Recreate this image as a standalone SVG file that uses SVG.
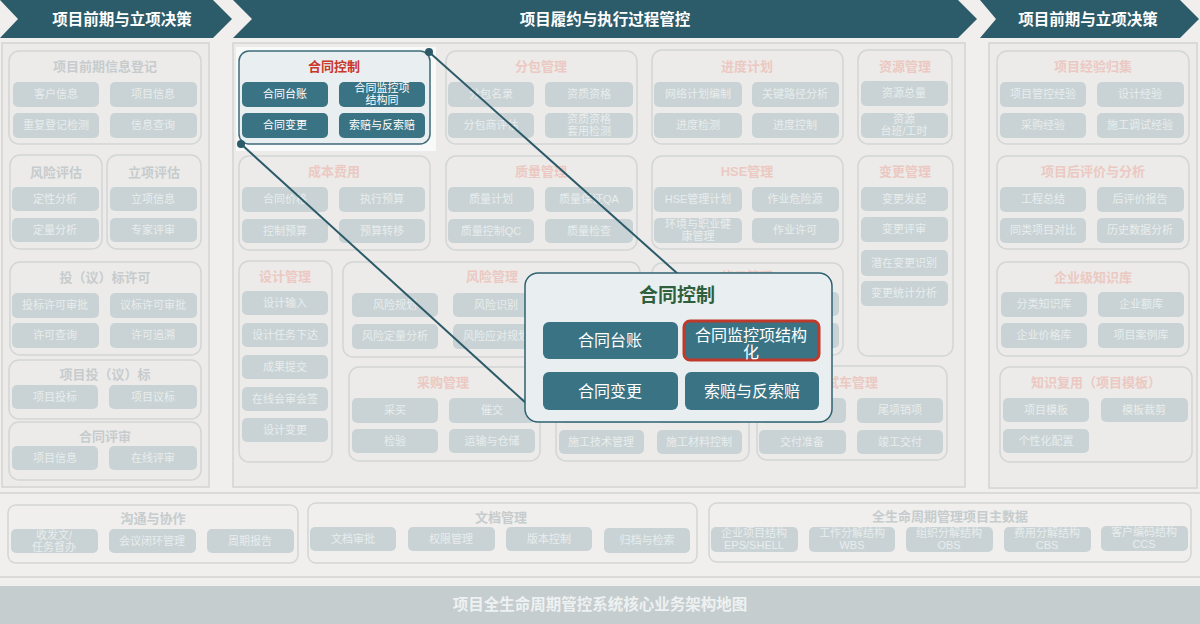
<svg xmlns="http://www.w3.org/2000/svg" width="1200" height="624" viewBox="0 0 1200 624">
<style>
text{font-family:"Liberation Sans","Noto Sans CJK SC",sans-serif;text-anchor:middle}
.hdr{fill:#2c5b6a}
.hdrt{fill:#ffffff;font-size:15.5px;font-weight:bold}
.panel{fill:#edebe9;stroke:#d4d4d2;stroke-width:1.5}
.grp{fill:none;stroke:#d2d6d6;stroke-width:1.5}
.gt{fill:#c6cccd;font-size:13px;font-weight:bold}
.gtp{fill:#ebc9c2;font-size:13px;font-weight:bold}
.it{fill:#c9d3d5}
.itt{fill:#e8eded;font-size:11px}
.act{fill:#3a7384}
.actt{fill:#ffffff;font-size:11px}
.pit{fill:#3a7384}
.pitt{fill:#ffffff;font-size:16px}
.conn{stroke:#2b5a68;stroke-width:2;fill:none}
.dot{fill:#2b5a68}
</style>
<rect x="0" y="0" width="1200" height="624" fill="#f0efed"/>

<g id="header">
<polygon class="hdr" points="0,0 213,0 232,19 213,38 0,38 18,19"/>
<polygon class="hdr" points="233,0 958,0 977,19 958,38 233,38 252,19"/>
<polygon class="hdr" points="980,0 1180,0 1199,19 1180,38 980,38 996,19"/>
<text class="hdrt" x="122" y="25">项目前期与立项决策</text>
<text class="hdrt" x="605" y="25">项目履约与执行过程管控</text>
<text class="hdrt" x="1088" y="25">项目前期与立项决策</text>
</g>

<g id="panels">
<rect class="panel" x="2" y="43" width="207" height="444"/>
<rect class="panel" x="233" y="43" width="732" height="444"/>
<rect class="panel" x="989" y="43" width="208" height="445"/>
</g>

<!-- Left panel -->
<g id="g-qianqi">
<rect class="grp" x="9" y="51" width="192" height="93" rx="10"/>
<text class="gt" x="105" y="71">项目前期信息登记</text>
<rect class="it" x="13" y="82" width="86" height="25" rx="5"/><text class="itt" x="56" y="98">客户信息</text>
<rect class="it" x="110" y="82" width="87" height="25" rx="5"/><text class="itt" x="153" y="98">项目信息</text>
<rect class="it" x="13" y="113" width="86" height="25" rx="5"/><text class="itt" x="56" y="129">重复登记检测</text>
<rect class="it" x="110" y="113" width="87" height="25" rx="5"/><text class="itt" x="153" y="129">信息查询</text>
</g>
<g id="g-fxpg">
<rect class="grp" x="10" y="155" width="92" height="94" rx="10"/>
<text class="gt" x="56" y="177">风险评估</text>
<rect class="it" x="12" y="187" width="87" height="24" rx="5"/><text class="itt" x="55" y="203">定性分析</text>
<rect class="it" x="12" y="218" width="87" height="24" rx="5"/><text class="itt" x="55" y="234">定量分析</text>
</g>
<g id="g-lxpg">
<rect class="grp" x="107" y="155" width="94" height="94" rx="10"/>
<text class="gt" x="154" y="177">立项评估</text>
<rect class="it" x="110" y="187" width="87" height="24" rx="5"/><text class="itt" x="153" y="203">立项信息</text>
<rect class="it" x="110" y="218" width="87" height="24" rx="5"/><text class="itt" x="153" y="234">专家评审</text>
</g>
<g id="g-tbxk">
<rect class="grp" x="10" y="262" width="191" height="93" rx="10"/>
<text class="gt" x="105" y="282">投（议）标许可</text>
<rect class="it" x="12" y="293" width="87" height="25" rx="5"/><text class="itt" x="55" y="309">投标许可审批</text>
<rect class="it" x="110" y="293" width="87" height="25" rx="5"/><text class="itt" x="153" y="309">议标许可审批</text>
<rect class="it" x="12" y="323" width="87" height="25" rx="5"/><text class="itt" x="55" y="339">许可查询</text>
<rect class="it" x="110" y="323" width="87" height="25" rx="5"/><text class="itt" x="153" y="339">许可追溯</text>
</g>
<g id="g-xmtb">
<rect class="grp" x="9" y="360" width="192" height="59" rx="10"/>
<text class="gt" x="105" y="379">项目投（议）标</text>
<rect class="it" x="12" y="385" width="86" height="24" rx="5"/><text class="itt" x="55" y="401">项目投标</text>
<rect class="it" x="109" y="385" width="88" height="24" rx="5"/><text class="itt" x="153" y="401">项目议标</text>
</g>
<g id="g-htps">
<rect class="grp" x="9" y="422" width="192" height="58" rx="10"/>
<text class="gt" x="105" y="441">合同评审</text>
<rect class="it" x="12" y="446" width="86" height="24" rx="5"/><text class="itt" x="55" y="462">项目信息</text>
<rect class="it" x="109" y="446" width="88" height="24" rx="5"/><text class="itt" x="153" y="462">在线评审</text>
</g>

<!-- Middle panel -->
<g id="g-htkz-small">
<rect x="236" y="47" width="200" height="104" fill="#f8f9f9"/>
<rect x="239" y="51" width="191" height="93" rx="10" fill="#e9eef0" stroke="#3d6b78" stroke-width="1.5"/>
<text x="334" y="71" fill="#c9372c" font-size="13" font-weight="bold">合同控制</text>
<rect class="act" x="242" y="82" width="86" height="25" rx="5"/><text class="actt" x="285" y="98">合同台账</text>
<rect class="act" x="339" y="82" width="86" height="25" rx="5"/><text class="actt" x="382" y="92">合同监控项</text><text class="actt" x="382" y="104">结构同</text>
<rect class="act" x="242" y="113" width="86" height="25" rx="5"/><text class="actt" x="285" y="129">合同变更</text>
<rect class="act" x="339" y="113" width="86" height="25" rx="5"/><text class="actt" x="382" y="129">索赔与反索赔</text>
</g>
<g id="g-fbgl">
<rect class="grp" x="446" y="51" width="191" height="93" rx="10"/>
<text class="gtp" x="541" y="71">分包管理</text>
<rect class="it" x="448" y="82" width="86" height="25" rx="5"/><text class="itt" x="491" y="98">分包名录</text>
<rect class="it" x="545" y="82" width="88" height="25" rx="5"/><text class="itt" x="589" y="98">资质资格</text>
<rect class="it" x="448" y="113" width="86" height="25" rx="5"/><text class="itt" x="491" y="129">分包商评估</text>
<rect class="it" x="545" y="113" width="88" height="25" rx="5"/><text class="itt" x="589" y="123">资质资格</text><text class="itt" x="589" y="135">套用检测</text>
</g>
<g id="g-jdjh">
<rect class="grp" x="652" y="50" width="191" height="94" rx="10"/>
<text class="gtp" x="747" y="71">进度计划</text>
<rect class="it" x="654" y="82" width="88" height="25" rx="5"/><text class="itt" x="698" y="98">网络计划编制</text>
<rect class="it" x="752" y="82" width="87" height="25" rx="5"/><text class="itt" x="795" y="98">关键路径分析</text>
<rect class="it" x="654" y="113" width="88" height="25" rx="5"/><text class="itt" x="698" y="129">进度检测</text>
<rect class="it" x="752" y="113" width="87" height="25" rx="5"/><text class="itt" x="795" y="129">进度控制</text>
</g>
<g id="g-zygl">
<rect class="grp" x="858" y="50" width="94" height="94" rx="10"/>
<text class="gtp" x="905" y="71">资源管理</text>
<rect class="it" x="861" y="81" width="87" height="25" rx="5"/><text class="itt" x="904" y="97">资源总量</text>
<rect class="it" x="861" y="113" width="87" height="25" rx="5"/><text class="itt" x="904" y="123">资源</text><text class="itt" x="904" y="135">台班/工时</text>
</g>
<g id="g-cbfy">
<rect class="grp" x="239" y="156" width="191" height="94" rx="10"/>
<text class="gtp" x="334" y="176">成本费用</text>
<rect class="it" x="242" y="187" width="86" height="25" rx="5"/><text class="itt" x="285" y="203">合同价格</text>
<rect class="it" x="339" y="187" width="86" height="25" rx="5"/><text class="itt" x="382" y="203">执行预算</text>
<rect class="it" x="242" y="219" width="86" height="24" rx="5"/><text class="itt" x="285" y="235">控制预算</text>
<rect class="it" x="339" y="219" width="86" height="24" rx="5"/><text class="itt" x="382" y="235">预算转移</text>
</g>
<g id="g-zlgl">
<rect class="grp" x="446" y="156" width="191" height="94" rx="10"/>
<text class="gtp" x="541" y="176">质量管理</text>
<rect class="it" x="448" y="187" width="86" height="25" rx="5"/><text class="itt" x="491" y="203">质量计划</text>
<rect class="it" x="545" y="187" width="88" height="25" rx="5"/><text class="itt" x="589" y="203">质量保证QA</text>
<rect class="it" x="448" y="219" width="86" height="24" rx="5"/><text class="itt" x="491" y="235">质量控制QC</text>
<rect class="it" x="545" y="219" width="88" height="24" rx="5"/><text class="itt" x="589" y="235">质量检查</text>
</g>
<g id="g-hse">
<rect class="grp" x="652" y="156" width="191" height="93" rx="10"/>
<text class="gtp" x="747" y="176">HSE管理</text>
<rect class="it" x="654" y="187" width="88" height="25" rx="5"/><text class="itt" x="698" y="203">HSE管理计划</text>
<rect class="it" x="752" y="187" width="87" height="25" rx="5"/><text class="itt" x="795" y="203">作业危险源</text>
<rect class="it" x="654" y="218" width="88" height="25" rx="5"/><text class="itt" x="698" y="228">环境与职业健</text><text class="itt" x="698" y="240">康管理</text>
<rect class="it" x="752" y="218" width="87" height="25" rx="5"/><text class="itt" x="795" y="234">作业许可</text>
</g>
<g id="g-bggl">
<rect class="grp" x="858" y="156" width="95" height="200" rx="10"/>
<text class="gtp" x="905" y="176">变更管理</text>
<rect class="it" x="861" y="187" width="87" height="24" rx="5"/><text class="itt" x="904" y="203">变更发起</text>
<rect class="it" x="861" y="217" width="87" height="25" rx="5"/><text class="itt" x="904" y="233">变更评审</text>
<rect class="it" x="861" y="250" width="87" height="26" rx="5"/><text class="itt" x="904" y="267">潜在变更识别</text>
<rect class="it" x="861" y="281" width="87" height="25" rx="5"/><text class="itt" x="904" y="297">变更统计分析</text>
</g>
<g id="g-sjgl">
<rect class="grp" x="239" y="261" width="93" height="201" rx="10"/>
<text class="gtp" x="285" y="281">设计管理</text>
<rect class="it" x="242" y="291" width="86" height="24" rx="5"/><text class="itt" x="285" y="307">设计输入</text>
<rect class="it" x="242" y="323" width="86" height="24" rx="5"/><text class="itt" x="285" y="339">设计任务下达</text>
<rect class="it" x="242" y="355" width="86" height="24" rx="5"/><text class="itt" x="285" y="371">成果提交</text>
<rect class="it" x="242" y="387" width="86" height="24" rx="5"/><text class="itt" x="285" y="403">在线会审会签</text>
<rect class="it" x="242" y="418" width="86" height="24" rx="5"/><text class="itt" x="285" y="434">设计变更</text>
</g>
<g id="g-fxgl">
<rect class="grp" x="343" y="262" width="297" height="95" rx="10"/>
<text class="gtp" x="492" y="281">风险管理</text>
<rect class="it" x="352" y="293" width="86" height="24" rx="5"/><text class="itt" x="395" y="309">风险规划</text>
<rect class="it" x="453" y="293" width="86" height="24" rx="5"/><text class="itt" x="496" y="309">风险识别</text>
<rect class="it" x="352" y="324" width="86" height="25" rx="5"/><text class="itt" x="395" y="340">风险定量分析</text>
<rect class="it" x="453" y="324" width="86" height="25" rx="5"/><text class="itt" x="496" y="340">风险应对规划</text>
</g>
<g id="g-sgxc">
<rect class="grp" x="652" y="263" width="191" height="92" rx="10"/>
<text class="gtp" x="747" y="281">施工管理</text>
<rect class="it" x="654" y="292" width="88" height="24" rx="5"/>
<rect class="it" x="752" y="292" width="87" height="24" rx="5"/>
<rect class="it" x="654" y="323" width="88" height="25" rx="5"/>
<rect class="it" x="752" y="323" width="87" height="25" rx="5"/>
</g>
<g id="g-cggl">
<rect class="grp" x="349" y="367" width="191" height="94" rx="10"/>
<text class="gtp" x="443" y="387">采购管理</text>
<rect class="it" x="352" y="398" width="86" height="25" rx="5"/><text class="itt" x="395" y="414">采买</text>
<rect class="it" x="449" y="398" width="86" height="25" rx="5"/><text class="itt" x="492" y="414">催交</text>
<rect class="it" x="352" y="429" width="86" height="24" rx="5"/><text class="itt" x="395" y="445">检验</text>
<rect class="it" x="449" y="429" width="86" height="24" rx="5"/><text class="itt" x="492" y="445">运输与仓储</text>
</g>
<g id="g-sggl">
<rect class="grp" x="556" y="367" width="193" height="94" rx="10"/>
<rect class="it" x="559" y="398" width="85" height="25" rx="5"/>
<rect class="it" x="657" y="398" width="85" height="25" rx="5"/>
<rect class="it" x="559" y="430" width="85" height="24" rx="5"/><text class="itt" x="601" y="446">施工技术管理</text>
<rect class="it" x="657" y="430" width="85" height="24" rx="5"/><text class="itt" x="699" y="446">施工材料控制</text>
</g>
<g id="g-scgl">
<rect class="grp" x="757" y="366" width="190" height="94" rx="10"/>
<text class="gtp" x="852" y="387">试车管理</text>
<rect class="it" x="759" y="398" width="87" height="25" rx="5"/>
<rect class="it" x="857" y="398" width="86" height="25" rx="5"/><text class="itt" x="900" y="414">尾项销项</text>
<rect class="it" x="759" y="430" width="87" height="24" rx="5"/><text class="itt" x="802" y="446">交付准备</text>
<rect class="it" x="857" y="430" width="86" height="24" rx="5"/><text class="itt" x="900" y="446">竣工交付</text>
</g>

<!-- Right panel -->
<g id="g-jygj">
<rect class="grp" x="997" y="51" width="192" height="93" rx="10"/>
<text class="gtp" x="1093" y="71">项目经验归集</text>
<rect class="it" x="1000" y="82" width="86" height="25" rx="5"/><text class="itt" x="1043" y="98">项目管控经验</text>
<rect class="it" x="1097" y="82" width="87" height="25" rx="5"/><text class="itt" x="1140" y="98">设计经验</text>
<rect class="it" x="1000" y="113" width="86" height="25" rx="5"/><text class="itt" x="1043" y="129">采购经验</text>
<rect class="it" x="1097" y="113" width="87" height="25" rx="5"/><text class="itt" x="1140" y="129">施工调试经验</text>
</g>
<g id="g-hpj">
<rect class="grp" x="997" y="156" width="192" height="93" rx="10"/>
<text class="gtp" x="1093" y="176">项目后评价与分析</text>
<rect class="it" x="1000" y="187" width="86" height="25" rx="5"/><text class="itt" x="1043" y="203">工程总结</text>
<rect class="it" x="1097" y="187" width="87" height="25" rx="5"/><text class="itt" x="1140" y="203">后评价报告</text>
<rect class="it" x="1000" y="218" width="86" height="25" rx="5"/><text class="itt" x="1043" y="234">同类项目对比</text>
<rect class="it" x="1097" y="218" width="87" height="25" rx="5"/><text class="itt" x="1140" y="234">历史数据分析</text>
</g>
<g id="g-zsk">
<rect class="grp" x="997" y="262" width="192" height="94" rx="10"/>
<text class="gtp" x="1093" y="282">企业级知识库</text>
<rect class="it" x="1001" y="292" width="86" height="25" rx="5"/><text class="itt" x="1044" y="308">分类知识库</text>
<rect class="it" x="1098" y="292" width="86" height="25" rx="5"/><text class="itt" x="1141" y="308">企业额库</text>
<rect class="it" x="1001" y="323" width="86" height="25" rx="5"/><text class="itt" x="1044" y="339">企业价格库</text>
<rect class="it" x="1098" y="323" width="86" height="25" rx="5"/><text class="itt" x="1141" y="339">项目案例库</text>
</g>
<g id="g-zsfy">
<rect class="grp" x="1000" y="367" width="192" height="95" rx="10"/>
<text class="gtp" x="1096" y="387">知识复用（项目模板）</text>
<rect class="it" x="1003" y="398" width="86" height="24" rx="5"/><text class="itt" x="1046" y="414">项目模板</text>
<rect class="it" x="1101" y="398" width="87" height="24" rx="5"/><text class="itt" x="1144" y="414">模板裁剪</text>
<rect class="it" x="1003" y="429" width="86" height="24" rx="5"/><text class="itt" x="1046" y="445">个性化配置</text>
</g>

<!-- Bottom band -->
<g id="bottom-band">
<line x1="0" y1="493" x2="1200" y2="493" stroke="#dadad8" stroke-width="2"/>
<line x1="0" y1="577" x2="1200" y2="577" stroke="#dadad8" stroke-width="2"/>
</g>
<g id="g-gtxz">
<rect class="grp" x="8" y="505" width="290" height="58" rx="8"/>
<text class="gt" x="153" y="523">沟通与协作</text>
<rect class="it" x="11" y="529" width="87" height="24" rx="5"/><text class="itt" x="54" y="539">收发文/</text><text class="itt" x="54" y="551">任务督办</text>
<rect class="it" x="109" y="529" width="87" height="24" rx="5"/><text class="itt" x="152" y="545">会议闭环管理</text>
<rect class="it" x="207" y="529" width="87" height="24" rx="5"/><text class="itt" x="250" y="545">周期报告</text>
</g>
<g id="g-wdgl">
<rect class="grp" x="308" y="503" width="389" height="60" rx="8"/>
<text class="gt" x="501" y="522">文档管理</text>
<rect class="it" x="310" y="527" width="86" height="24" rx="5"/><text class="itt" x="353" y="543">文档审批</text>
<rect class="it" x="408" y="527" width="87" height="24" rx="5"/><text class="itt" x="451" y="543">权限管理</text>
<rect class="it" x="506" y="527" width="86" height="24" rx="5"/><text class="itt" x="549" y="543">版本控制</text>
<rect class="it" x="604" y="528" width="86" height="25" rx="5"/><text class="itt" x="647" y="544">归档与检索</text>
</g>
<g id="g-zsj">
<rect class="grp" x="709" y="503" width="482" height="59" rx="8"/>
<text class="gt" x="950" y="521">全生命周期管理项目主数据</text>
<rect class="it" x="711" y="527" width="87" height="25" rx="5"/><text class="itt" x="754" y="537">企业项目结构</text><text class="itt" x="754" y="549" font-size="10">EPS/SHELL</text>
<rect class="it" x="809" y="527" width="86" height="25" rx="5"/><text class="itt" x="852" y="537">工作分解结构</text><text class="itt" x="852" y="549" font-size="10">WBS</text>
<rect class="it" x="906" y="527" width="87" height="25" rx="5"/><text class="itt" x="949" y="537">组织分解结构</text><text class="itt" x="949" y="549" font-size="10">OBS</text>
<rect class="it" x="1004" y="527" width="87" height="25" rx="5"/><text class="itt" x="1047" y="537">费用分解结构</text><text class="itt" x="1047" y="549" font-size="10">CBS</text>
<rect class="it" x="1101" y="526" width="87" height="25" rx="5"/><text class="itt" x="1144" y="536">客户编码结构</text><text class="itt" x="1144" y="548" font-size="10">CCS</text>
</g>

<g id="footer">
<rect x="0" y="586" width="1200" height="38" fill="#c5cdcf"/>
<text x="600" y="610" fill="#eef1f1" font-size="15.5" font-weight="bold">项目全生命周期管控系统核心业务架构地图</text>
</g>

<g id="connectors">
<line class="conn" x1="241" y1="144" x2="527" y2="404"/>
<line class="conn" x1="429" y1="52" x2="678" y2="274"/>
<circle class="dot" cx="429" cy="52" r="4"/>
<circle class="dot" cx="241" cy="144" r="4"/>
</g>

<g id="popup">
<rect x="525" y="273" width="307" height="149" rx="13" fill="#e9eff0" stroke="#2e6272" stroke-width="1.5"/>
<text x="677" y="302" fill="#2f5f3c" font-size="19" font-weight="bold">合同控制</text>
<rect class="pit" x="543" y="322" width="135" height="37" rx="6"/><text class="pitt" x="610" y="346">合同台账</text>
<rect class="pit" x="684" y="321" width="135" height="39" rx="6" stroke="#c0392b" stroke-width="3"/><text class="pitt" x="751" y="341">合同监控项结构</text><text class="pitt" x="751" y="358">化</text>
<rect class="pit" x="543" y="372" width="135" height="38" rx="6"/><text class="pitt" x="610" y="397">合同变更</text>
<rect class="pit" x="685" y="372" width="134" height="38" rx="6"/><text class="pitt" x="752" y="397">索赔与反索赔</text>
</g>
</svg>
